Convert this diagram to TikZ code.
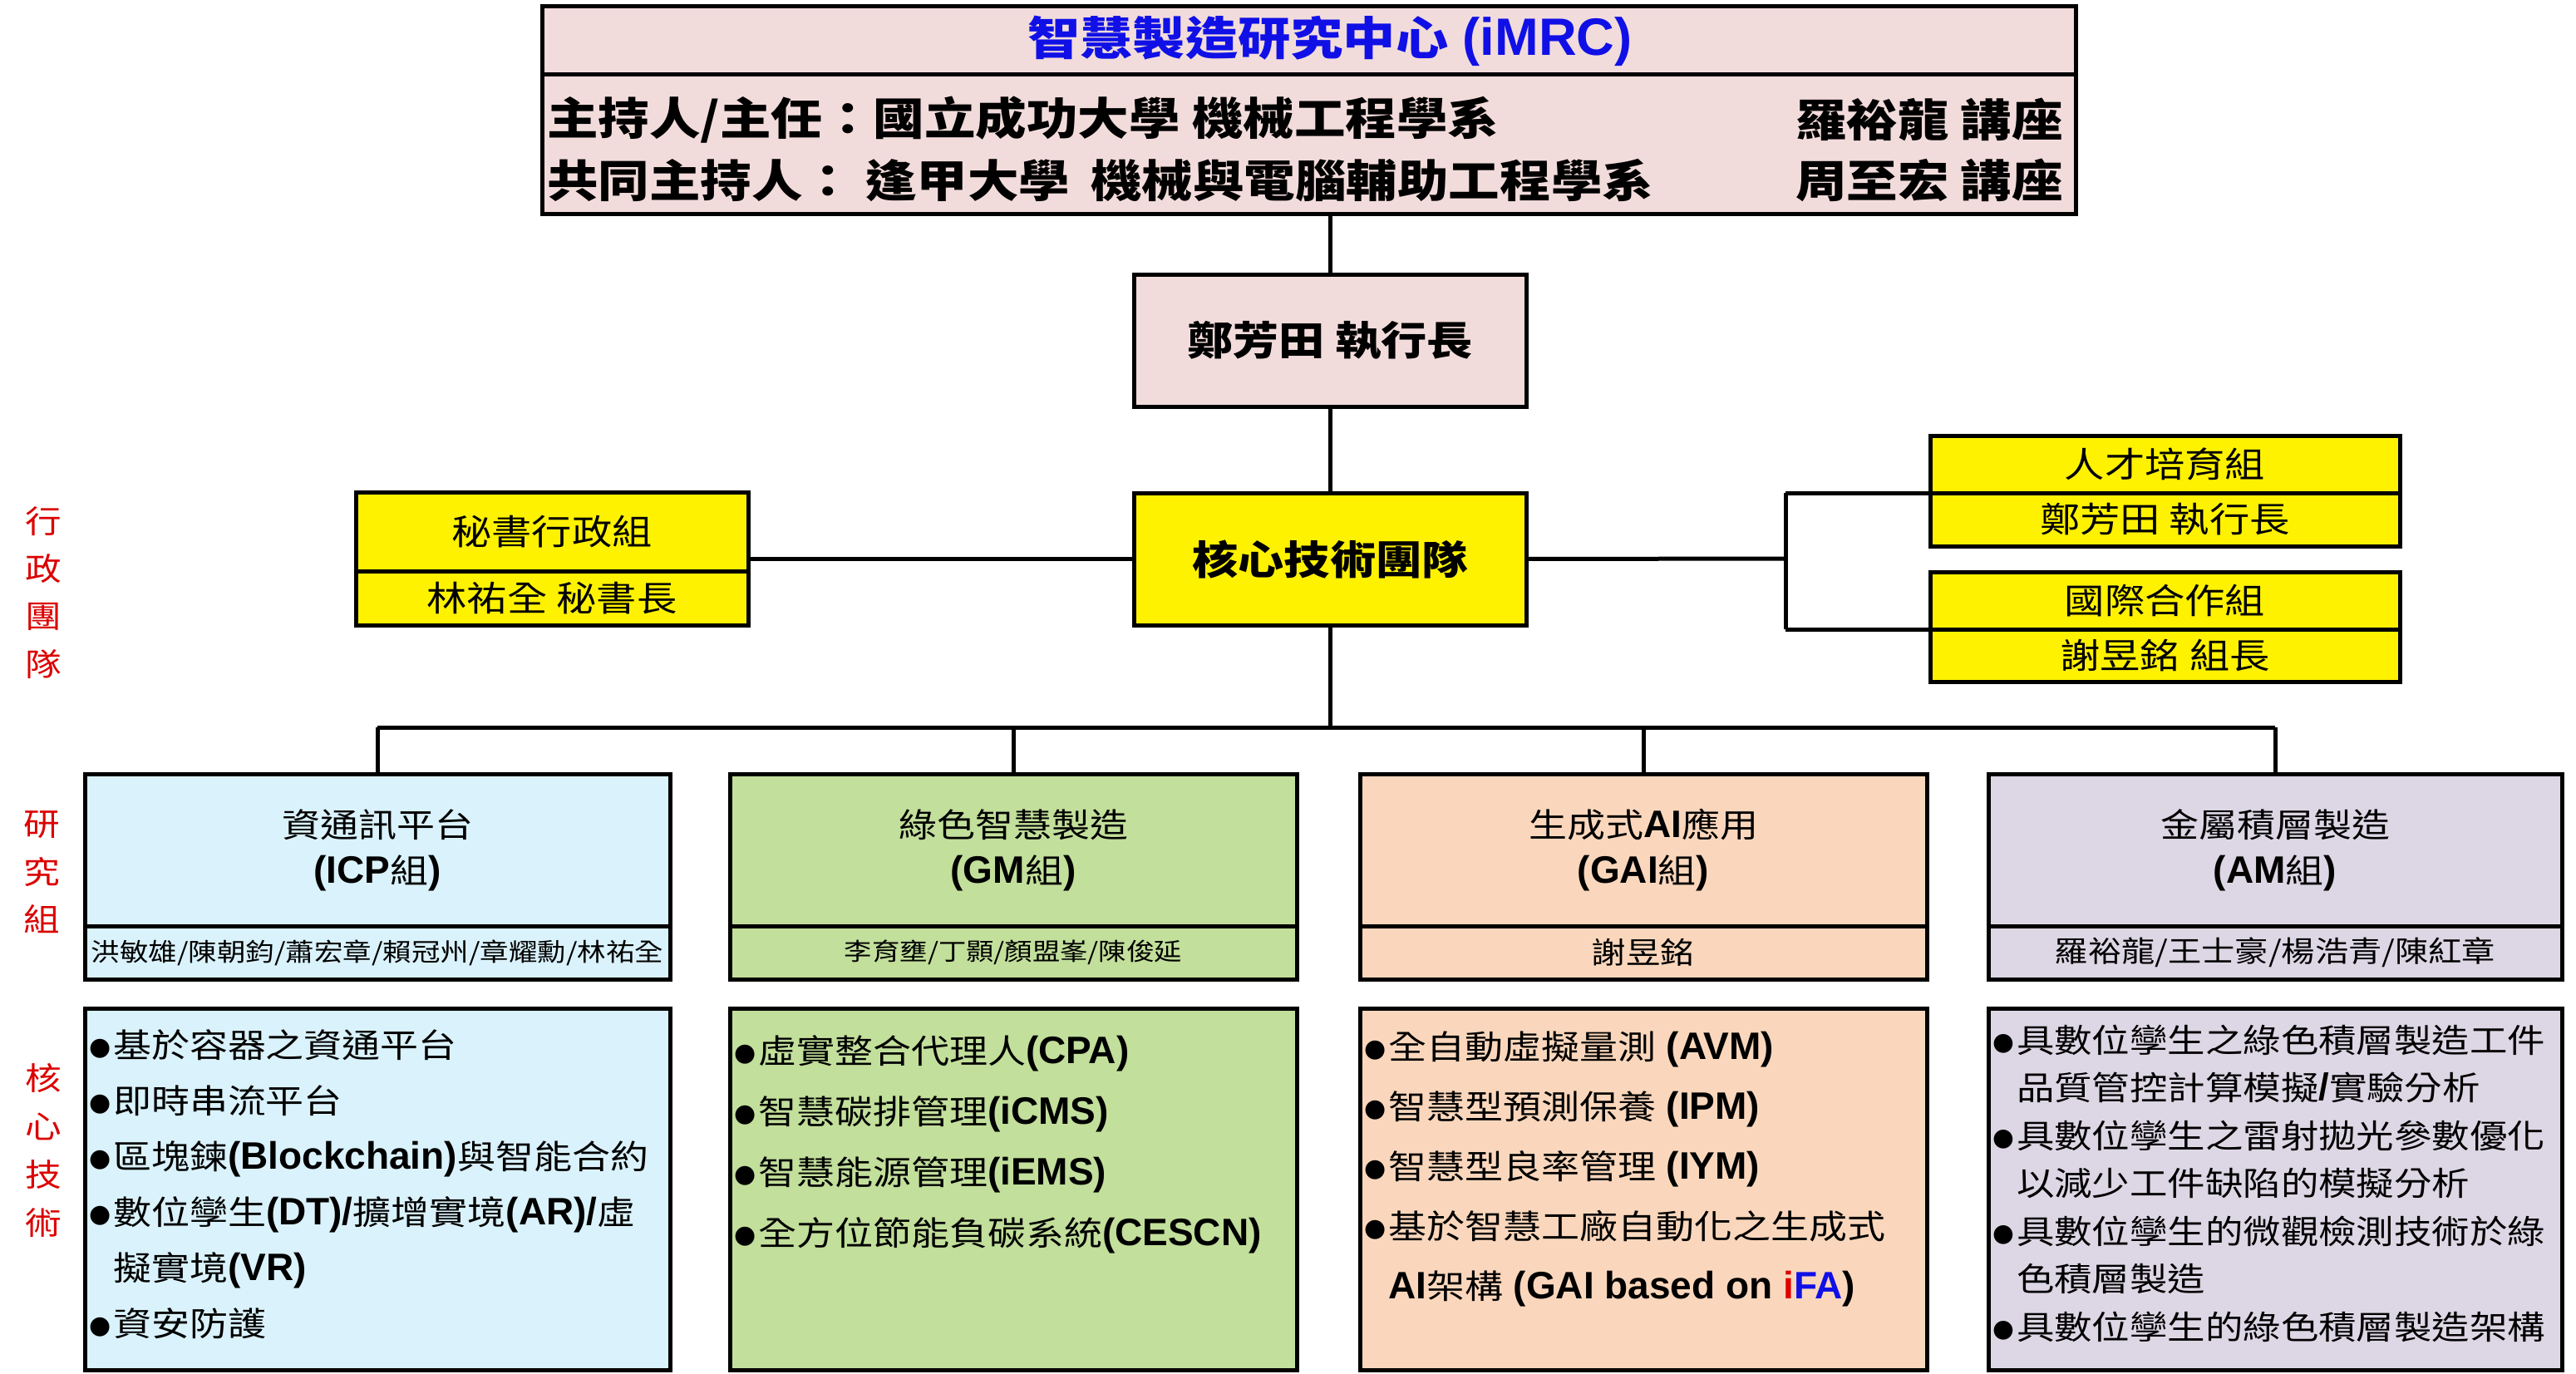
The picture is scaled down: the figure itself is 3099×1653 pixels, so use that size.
\documentclass[tikz,border=0pt]{standalone}
\usepackage{fontspec}
\usepackage{xcolor}
\setmainfont{Noto Sans CJK TC}[FakeStretch=1.15]
\newfontfamily\latfont{Liberation Sans}[Scale=1.15]
\newfontfamily\symfont{DejaVu Sans}[Scale=0.75]
\usetikzlibrary{positioning}

\definecolor{pinkbg}{RGB}{242,220,219}
\definecolor{icpblue}{RGB}{218,242,251}
\definecolor{gmgreen}{RGB}{194,223,155}
\definecolor{gaipeach}{RGB}{250,215,188}
\definecolor{amlilac}{RGB}{221,215,229}
\definecolor{titleblue}{RGB}{16,16,230}
\definecolor{labelred}{RGB}{220,0,0}

\newcommand{\en}[1]{{\latfont\bfseries #1}}
\newcommand{\bul}{\makebox[31pt][l]{\hspace{2pt}\raisebox{3pt}{\symfont ●}}}
\newcommand{\cont}{\hspace*{31pt}}

\begin{document}
\begin{tikzpicture}[
    x=1pt, y=-1pt,
    every node/.style={outer sep=0pt},
    box/.style={rectangle, draw, line width=5pt, inner sep=0pt},
    rowtext/.style={inner sep=0pt, font=\bfseries\fontsize{53.5}{60}\selectfont},
    boldbox/.style={box, minimum width=472, minimum height=159, font=\bfseries\fontsize{48}{48}\selectfont},
    yellowbox/.style={box, fill=yellow, font=\fontsize{42}{42}\selectfont},
    groupbox/.style={box, minimum height=183, align=center, font=\fontsize{40}{55}\selectfont},
    namebox/.style={box, minimum height=64},
    techbox/.style={box, minimum height=435},
    techtext/.style={inner sep=0pt, align=left, anchor=north west},
    redlabel/.style={inner sep=0pt, text=labelred, font=\fontsize{38}{38}\selectfont},
    link/.style={line width=5pt}
]
\useasboundingbox (0,0) rectangle (3099,1653);
\fill[white] (0,0) rectangle (3099,1653);

% centre head
\node[box, fill=pinkbg, anchor=north west, minimum width=1845, minimum height=82] (imrc) at (652,8) {};
\node[box, fill=pinkbg, below=0pt of imrc, minimum width=1845, minimum height=168] (hosts) {};
\node[inner sep=0pt, text=titleblue, font=\bfseries\fontsize{55}{55}\selectfont] (title) at (1600,49) {智慧製造研究中心\en{ (iMRC)}};
\node[rowtext, anchor=west] (chair) at (658,144) {主持人/主任：國立成功大學 機械工程學系};
\node[rowtext, anchor=west] (chairname) at (2160,144) {羅裕龍 講座};
\node[rowtext, anchor=west] (cochair) at (658,217) {共同主持人： 逢甲大學\hspace{25pt}機械與電腦輔助工程學系};
\node[rowtext, anchor=west] (cochairname) at (2160,217) {周至宏 講座};

\node[boldbox, fill=pinkbg] (ceo) at (1600,409.5) {鄭芳田 執行長};
\node[boldbox, fill=yellow, below=104pt of ceo] (core) {核心技術團隊};

% admin side groups
\node[yellowbox, minimum width=472, minimum height=95] (sec) at (664,639.5) {秘書行政組};
\node[yellowbox, minimum width=472, minimum height=65, below=0pt of sec] (secname) {林祐全 秘書長};
\node[yellowbox, minimum width=565, minimum height=69] (talent) at (2604.5,558.5) {人才培育組};
\node[yellowbox, minimum width=565, minimum height=64, below=0pt of talent] (talentname) {鄭芳田 執行長};
\node[yellowbox, minimum width=565, minimum height=69] (intl) at (2604.5,722.5) {國際合作組};
\node[yellowbox, minimum width=565, minimum height=63, below=0pt of intl] (intlname) {謝昱銘 組長};

% research groups
\node[groupbox, fill=icpblue, minimum width=704] (icp) at (454,1022.5) {資通訊平台\\\en{(ICP}組\en{)}};
\node[groupbox, fill=gmgreen, minimum width=682] (gm) at (1219,1022.5) {綠色智慧製造\\\en{(GM}組\en{)}};
\node[groupbox, fill=gaipeach, minimum width=682] (gai) at (1977,1022.5) {生成式\en{AI}應用\\\en{(GAI}組\en{)}};
\node[groupbox, fill=amlilac, minimum width=690] (am) at (2737,1022.5) {金屬積層製造\\\en{(AM}組\en{)}};

\node[namebox, fill=icpblue, minimum width=704, below=0pt of icp, font=\fontsize{30}{30}\selectfont] (icpnames) {洪敏雄/陳朝鈞/蕭宏章/賴冠州/章耀勳/林祐全};
\node[namebox, fill=gmgreen, minimum width=682, below=0pt of gm, font=\fontsize{29}{29}\selectfont] (gmnames) {李育壅/丁顥/顏盟峯/陳俊延};
\node[namebox, fill=gaipeach, minimum width=682, below=0pt of gai, font=\fontsize{36}{36}\selectfont] (gainames) {謝昱銘};
\node[namebox, fill=amlilac, minimum width=690, below=0pt of am, font=\fontsize{35}{35}\selectfont] (amnames) {羅裕龍/王士豪/楊浩青/陳紅章};

% core technologies
\node[techbox, fill=icpblue, minimum width=704, below=35pt of icpnames] (icptech) {};
\node[techbox, fill=gmgreen, minimum width=682, below=35pt of gmnames] (gmtech) {};
\node[techbox, fill=gaipeach, minimum width=682, below=35pt of gainames] (gaitech) {};
\node[techbox, fill=amlilac, minimum width=690, below=35pt of amnames] (amtech) {};

\node[techtext, font=\fontsize{40}{67}\selectfont] (icplist) at ([shift={(3,26)}]icptech.north west) {%
\bul 基於容器之資通平台\\
\bul 即時串流平台\\
\bul 區塊鍊\en{(Blockchain)}與智能合約\\
\bul 數位孿生\en{(DT)/}擴增實境\en{(AR)/}虛\\
\cont 擬實境\en{(VR)}\\
\bul 資安防護};
\node[techtext, font=\fontsize{40}{73}\selectfont] (gmlist) at ([shift={(3,33)}]gmtech.north west) {%
\bul 虛實整合代理人\en{(CPA)}\\
\bul 智慧碳排管理\en{(iCMS)}\\
\bul 智慧能源管理\en{(iEMS)}\\
\bul 全方位節能負碳系統\en{(CESCN)}};
\node[techtext, font=\fontsize{40}{72}\selectfont] (gailist) at ([shift={(3,28)}]gaitech.north west) {%
\bul 全自動虛擬量測\en{ (AVM)}\\
\bul 智慧型預測保養\en{ (IPM)}\\
\bul 智慧型良率管理\en{ (IYM)}\\
\bul 基於智慧工廠自動化之生成式\\
\cont\en{AI}架構\en{ (GAI based on \textcolor{labelred}{i}\textcolor{titleblue}{FA})}};
\node[techtext, font=\fontsize{39.5}{57.5}\selectfont] (amlist) at ([shift={(3,20)}]amtech.north west) {%
\bul 具數位孿生之綠色積層製造工件\\
\cont 品質管控計算模擬\en{/}實驗分析\\
\bul 具數位孿生之雷射拋光參數優化\\
\cont 以減少工件缺陷的模擬分析\\
\bul 具數位孿生的微觀檢測技術於綠\\
\cont 色積層製造\\
\bul 具數位孿生的綠色積層製造架構};

% row labels, one character each
\foreach \ch [count=\i] in {行,政,團,隊}
  \node[redlabel] (admin\i) at (52,627+57.5*\i-57.5) {\ch};
\foreach \ch [count=\i] in {研,究,組}
  \node[redlabel] (group\i) at (50,992+57*\i-57) {\ch};
\foreach \ch [count=\i] in {核,心,技,術}
  \node[redlabel] (tech\i) at (52,1297+58*\i-58) {\ch};

% connectors
\coordinate (fork) at (2148,672);
\coordinate (bus) at (1600,875);
\draw[link] (ceo.north |- hosts.south) -- (ceo.north);
\draw[link] (ceo) -- (core);
\draw[link] (core.west) -- (core.west -| sec.east);
\draw[link] (core.east) -- (fork);
\draw[link] (talent.south west -| fork) -- (intl.south west -| fork);
\draw[link] (talent.south west -| fork) -- (talent.south west);
\draw[link] (intl.south west -| fork) -- (intl.south west);
\draw[link] (core.south) -- (bus);
\draw[link] (icp.north |- bus) -- (am.north |- bus);
\foreach \g in {icp,gm,gai,am}
  \draw[link] (\g.north |- bus) -- (\g.north);

\end{tikzpicture}
\end{document}
